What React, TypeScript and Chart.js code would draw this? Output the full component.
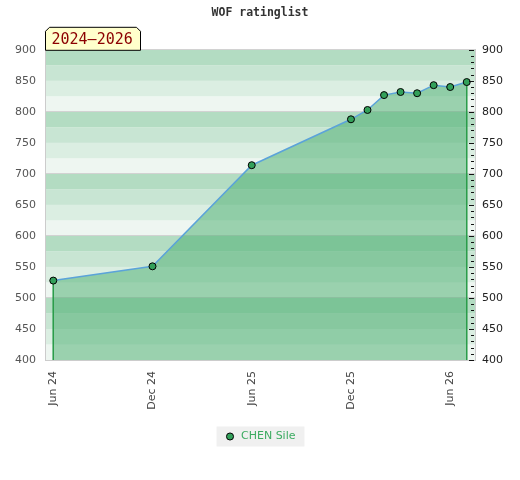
import { useEffect, useRef } from 'react';
import { Chart, registerables } from 'chart.js';

Chart.register(...registerables);

// ---- data ----
const monthIndex = [0, 6, 12, 18, 19, 20, 21, 22, 23, 24, 25]; // months since Jun 2024
const ratings = [528, 551, 714, 788, 803, 827, 832, 830, 843, 840, 848];
const tickMonths = [0, 6, 12, 18, 24];
const tickLabels = ['Jun 24', 'Dec 24', 'Jun 25', 'Dec 25', 'Jun 26'];
const playerName = 'CHEN Sile';
const chartTitle = 'WOF ratinglist';
const periodLabel = '2024–2026';
const yMin = 400;
const yMax = 900;

const stripeColors = ['#eef6f1', '#dbeee2', '#c8e5d3', '#b3dcc2'];

const stripesPlugin = {
  id: 'stripes',
  beforeDraw(chart: any) {
    const { ctx, chartArea } = chart;
    const ys = chart.scales.y;
    if (!chartArea || !ys) return;
    ctx.save();
    for (let v = yMin; v < yMax; v += 25) {
      const k = Math.round((v % 100) / 25);
      const top = ys.getPixelForValue(v + 25);
      const bot = ys.getPixelForValue(v);
      ctx.fillStyle = stripeColors[k];
      ctx.fillRect(chartArea.left, top, chartArea.right - chartArea.left, bot - top);
    }
    // legend background
    const hb = chart.legend && chart.legend.legendHitBoxes && chart.legend.legendHitBoxes[0];
    if (hb) {
      ctx.fillStyle = '#f0f0f0';
      const cy = hb.top + hb.height / 2;
      ctx.fillRect(hb.left - 8, cy - 10, hb.width + 17, 20);
    }
    ctx.restore();
  },
};

const minorTicksPlugin = {
  id: 'minorTicks',
  afterDatasetsDraw(chart: any) {
    const { ctx, chartArea } = chart;
    const ys = chart.scales.y2;
    if (!ys) return;
    ctx.save();
    ctx.strokeStyle = '#111';
    ctx.lineWidth = 1;
    for (let v = yMin; v <= yMax; v += 10) {
      const y = Math.round(ys.getPixelForValue(v)) + 0.5;
      const len = v % 50 === 0 ? 5 : 3;
      ctx.beginPath();
      ctx.moveTo(chartArea.right - len - 1, y);
      ctx.lineTo(chartArea.right - 1, y);
      ctx.stroke();
    }
    ctx.restore();
  },
};

const badgePlugin = {
  id: 'badge',
  afterDraw(chart: any) {
    const { ctx, chartArea } = chart;
    const x0 = chartArea.left + 0.5;
    const y1 = chartArea.top + 0.5;
    const y0 = y1 - 23;
    const x1 = x0 + 95;
    const c = 4;
    ctx.save();
    ctx.beginPath();
    ctx.moveTo(x0, y1);
    ctx.lineTo(x0, y0 + c);
    ctx.lineTo(x0 + c, y0);
    ctx.lineTo(x1 - c, y0);
    ctx.lineTo(x1, y0 + c);
    ctx.lineTo(x1, y1);
    ctx.closePath();
    ctx.fillStyle = '#ffffcc';
    ctx.fill();
    ctx.strokeStyle = '#000';
    ctx.lineWidth = 1;
    ctx.stroke();
    ctx.fillStyle = '#8b0000';
    ctx.font = '15px "DejaVu Sans Mono"';
    ctx.textBaseline = 'middle';
    ctx.textAlign = 'left';
    ctx.fillText(periodLabel, x0 + 6, (y0 + y1) / 2 + 1);
    ctx.restore();
  },
};

export default function App() {
  const ref = useRef<HTMLCanvasElement>(null);

  useEffect(() => {
    document.body.style.margin = '0';
    const canvas = ref.current;
    if (!canvas) return;
    Chart.defaults.font.family = '"DejaVu Sans"';

    const first = monthIndex[0];
    const last = monthIndex[monthIndex.length - 1];

    const chart = new Chart(canvas, {
      type: 'line',
      data: {
        datasets: [
          {
            label: playerName,
            data: monthIndex.map((m, i) => ({ x: m, y: ratings[i] })),
            borderColor: '#5ba3d9',
            borderWidth: 1.5,
            backgroundColor: 'rgba(70,172,108,0.5)',
            fill: 'start',
            tension: 0,
            pointRadius: 3.5,
            pointBackgroundColor: '#33a05a',
            pointBorderColor: '#000',
            pointBorderWidth: 1,
            yAxisID: 'y',
          },
          {
            label: 'start',
            data: [
              { x: first, y: ratings[0] },
              { x: first, y: yMin },
            ],
            borderColor: '#2a9d4a',
            borderWidth: 1,
            pointRadius: 0,
            fill: false,
            yAxisID: 'y',
          },
          {
            label: 'end',
            data: [
              { x: last, y: ratings[ratings.length - 1] },
              { x: last, y: yMin },
            ],
            borderColor: '#2a9d4a',
            borderWidth: 1,
            pointRadius: 0,
            fill: false,
            yAxisID: 'y',
          },
        ],
      } as any,
      options: {
        animation: false,
        responsive: false,
        layout: { padding: { left: 0, right: 0, top: 0, bottom: 28 } },
        scales: {
          x: {
            type: 'linear',
            min: first - 0.5,
            max: last + 0.5,
            grid: { display: false, drawTicks: false },
            border: { color: '#cccccc' },
            afterBuildTicks: (axis: any) => {
              axis.ticks = tickMonths.map((v) => ({ value: v }));
            },
            afterFit: (s: any) => {
              s.height = 61;
            },
            ticks: {
              autoSkip: false,
              minRotation: 90,
              maxRotation: 90,
              padding: 11,
              color: '#444',
              font: { size: 11 },
              callback: (value: any) => {
                const i = tickMonths.indexOf(Number(value));
                return i >= 0 ? tickLabels[i] : '';
              },
            },
          },
          y: {
            position: 'left',
            min: yMin,
            max: yMax,
            afterFit: (s: any) => {
              s.width = 45;
            },
            ticks: { stepSize: 50, color: '#555', padding: 9, font: { size: 11 } },
            grid: {
              drawTicks: false,
              color: (c: any) => (c.tick && c.tick.value % 100 === 0 ? '#d2d2d2' : 'rgba(0,0,0,0)'),
            },
            border: { color: '#cccccc' },
          },
          y2: {
            position: 'right',
            min: yMin,
            max: yMax,
            afterFit: (s: any) => {
              s.width = 45;
            },
            ticks: { stepSize: 50, color: '#222', padding: 7, font: { size: 11 } },
            grid: { drawOnChartArea: false, drawTicks: false },
            border: { color: '#cccccc' },
          },
        },
        plugins: {
          filler: { drawTime: 'beforeDatasetsDraw' },
          title: {
            display: true,
            text: chartTitle,
            color: '#333',
            font: { family: '"DejaVu Sans Mono"', size: 11.5, weight: 'bold' },
            padding: { top: 6, bottom: 30 },
          },
          legend: {
            position: 'bottom',
            labels: {
              usePointStyle: true,
              pointStyle: 'circle',
              boxWidth: 11,
              boxHeight: 5,
              color: '#3cab61',
              font: { size: 11 },
              padding: 10,
              filter: (item: any) => item.datasetIndex === 0,
            },
          },
          tooltip: { enabled: false },
        },
      } as any,
      plugins: [stripesPlugin, minorTicksPlugin, badgePlugin],
    });

    return () => chart.destroy();
  }, []);

  return (
    <div style={{ width: 520, height: 480 }}>
      <canvas ref={ref} width={520} height={480} />
    </div>
  );
}
